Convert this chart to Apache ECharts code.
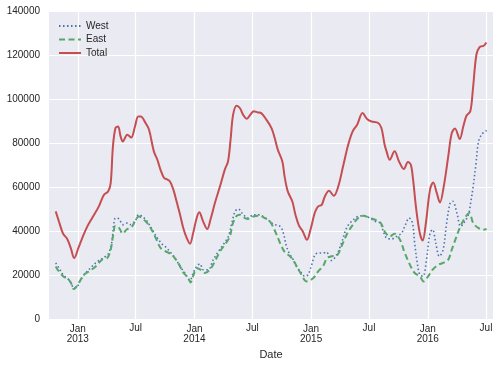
<!DOCTYPE html>
<html>
<head>
<meta charset="utf-8">
<script src="https://cdn.jsdelivr.net/npm/echarts@6/dist/echarts.min.js"></script>
<style>
html,body{margin:0;padding:0;background:#fff;}
#main{width:501px;height:367px;}
</style>
</head>
<body>
<div id="main"></div>
<script>
const seriesNames = ['West', 'East', 'Total'];
const yTicks = [0, 20000, 40000, 60000, 80000, 100000, 120000, 140000];
const xTickDates = ['2013-01-01','2013-07-01','2014-01-01','2014-07-01','2015-01-01','2015-07-01','2016-01-01','2016-07-01'];
const xRange = ['2012-10-03', '2016-07-23'];

const westData = [
['2012-10-24',25500],['2012-11-03',23200],['2012-11-16',20100],['2012-11-29',18600],['2012-12-10',16600],
['2012-12-20',14100],['2012-12-31',14800],['2013-01-10',17900],['2013-01-26',20900],['2013-02-10',23200],
['2013-02-26',25500],['2013-03-13',27000],['2013-03-29',28500],['2013-04-08',30000],['2013-04-17',34500],
['2013-04-24',43600],['2013-04-29',45900],['2013-05-10',45500],['2013-05-22',42900],['2013-06-05',43600],
['2013-06-15',42900],['2013-06-29',44400],['2013-07-11',47400],['2013-07-22',46600],['2013-08-06',44400],
['2013-08-22',40600],['2013-09-07',36800],['2013-09-22',34000],['2013-10-01',33000],['2013-10-16',30700],
['2013-11-01',27700],['2013-11-17',23900],['2013-12-02',20900],['2013-12-18',17600],['2013-12-28',20900],
['2014-01-08',23900],['2014-01-18',25100],['2014-01-29',22400],['2014-02-13',22400],['2014-03-01',27000],
['2014-03-17',30700],['2014-04-01',33800],['2014-04-17',37500],['2014-04-28',43600],['2014-05-08',48900],
['2014-05-18',50000],['2014-06-03',47400],['2014-06-18',45900],['2014-07-04',47400],['2014-07-20',47400],
['2014-08-04',46600],['2014-08-19',45100],['2014-09-04',43200],['2014-09-26',42100],['2014-10-06',39100],
['2014-10-16',33000],['2014-10-27',29200],['2014-11-06',27000],['2014-11-16',23900],['2014-12-02',20900],
['2014-12-12',19400],['2014-12-22',20100],['2015-01-03',24700],['2015-01-13',29200],['2015-01-23',30000],
['2015-02-08',30000],['2015-02-18',30400],['2015-03-06',26600],['2015-03-22',29200],['2015-04-06',34500],
['2015-04-22',41400],['2015-05-08',44400],['2015-05-28',46600],['2015-06-18',46900],['2015-07-04',45900],
['2015-07-20',44400],['2015-08-05',43600],['2015-08-15',39800],['2015-08-25',36800],['2015-09-10',36400],
['2015-09-25',37500],['2015-10-11',39100],['2015-10-21',42100],['2015-11-04',45900],['2015-11-14',43600],
['2015-11-21',34500],['2015-11-29',25500],['2015-12-07',20100],['2015-12-17',19400],['2015-12-28',27000],
['2016-01-08',39100],['2016-01-16',40600],['2016-01-26',34500],['2016-02-06',28500],['2016-02-18',31500],
['2016-02-29',43600],['2016-03-11',52700],['2016-03-19',53500],['2016-04-01',48200],['2016-04-13',42100],
['2016-04-26',44400],['2016-05-07',47400],['2016-05-14',52700],['2016-05-22',60300],['2016-05-31',70900],
['2016-06-07',80000],['2016-06-17',83800],['2016-07-03',85700]
];

const eastData = [
['2012-10-24',23900],['2012-11-03',21600],['2012-11-19',19100],['2012-11-29',18600],['2012-12-10',16600],
['2012-12-20',13600],['2013-01-05',16600],['2013-01-20',20100],['2013-02-05',21600],['2013-02-26',23900],
['2013-03-18',27000],['2013-04-03',27700],['2013-04-14',31500],['2013-04-21',37500],['2013-04-29',42400],
['2013-05-10',41400],['2013-05-22',38800],['2013-06-02',40600],['2013-06-20',42100],['2013-07-01',45100],
['2013-07-11',46600],['2013-08-01',44400],['2013-08-17',41400],['2013-09-02',36800],['2013-09-17',32300],
['2013-09-30',31000],['2013-10-22',29200],['2013-11-11',25500],['2013-11-27',21200],['2013-12-13',18600],
['2013-12-20',16600],['2013-12-28',19400],['2014-01-08',23200],['2014-01-20',22400],['2014-02-03',20900],
['2014-02-18',22400],['2014-03-06',26200],['2014-03-22',30700],['2014-04-06',33800],['2014-04-22',37500],
['2014-04-30',42900],['2014-05-13',46900],['2014-05-23',47400],['2014-06-08',45900],['2014-06-18',45500],
['2014-07-04',46600],['2014-07-24',46900],['2014-08-09',45900],['2014-08-25',44400],['2014-09-10',40000],
['2014-09-26',34500],['2014-10-11',30300],['2014-10-27',28500],['2014-11-11',25500],['2014-11-26',21600],
['2014-12-19',17100],['2015-01-08',18600],['2015-01-23',21600],['2015-02-08',24200],['2015-02-20',27700],
['2015-03-06',28500],['2015-03-22',28800],['2015-04-06',33000],['2015-04-22',38300],['2015-05-08',42100],
['2015-05-28',45900],['2015-06-13',46900],['2015-07-04',45900],['2015-07-20',45100],['2015-08-07',43600],
['2015-08-19',39800],['2015-09-04',37500],['2015-09-19',38800],['2015-10-06',36000],['2015-10-21',30000],
['2015-11-06',24700],['2015-11-21',20900],['2015-12-07',19400],['2015-12-19',17100],['2016-01-02',19400],
['2016-01-16',22400],['2016-02-03',24700],['2016-02-18',25500],['2016-03-05',27000],['2016-03-16',31500],
['2016-03-29',36800],['2016-04-10',41400],['2016-04-26',45900],['2016-05-10',48200],['2016-05-22',43600],
['2016-06-07',41400],['2016-06-22',40600],['2016-07-03',40900]
];

const totalData = [
['2012-10-24',48900],['2012-11-03',44400],['2012-11-16',38800],['2012-11-29',36400],['2012-12-10',32300],
['2012-12-21',27700],['2013-01-03',32300],['2013-01-15',36800],['2013-01-31',42100],['2013-02-15',45900],
['2013-03-08',51200],['2013-03-24',56500],['2013-04-06',58000],['2013-04-14',61800],['2013-04-21',78400],
['2013-04-29',86800],['2013-05-07',87500],['2013-05-15',83000],['2013-05-22',80700],['2013-06-05',83800],
['2013-06-17',82500],['2013-06-29',87500],['2013-07-09',92100],['2013-07-17',92100],['2013-08-01',89100],
['2013-08-12',86000],['2013-08-27',76200],['2013-09-07',72400],['2013-09-17',67800],['2013-09-28',64100],
['2013-10-06',63600],['2013-10-16',62600],['2013-10-27',58800],['2013-11-06',53500],['2013-11-17',47400],
['2013-11-27',41400],['2013-12-08',36800],['2013-12-18',34200],['2013-12-28',39100],['2014-01-08',45900],
['2014-01-16',48500],['2014-01-28',44400],['2014-02-10',40900],['2014-02-20',45100],['2014-03-06',52700],
['2014-03-22',60300],['2014-04-06',67900],['2014-04-16',71600],['2014-04-24',81500],['2014-05-02',92900],
['2014-05-13',96900],['2014-05-23',95900],['2014-06-02',92900],['2014-06-14',91000],['2014-06-25',92900],
['2014-07-06',94400],['2014-07-18',93900],['2014-07-29',93600],['2014-08-14',90600],['2014-08-30',86800],
['2014-09-09',82300],['2014-09-19',76900],['2014-10-03',71600],['2014-10-10',64800],['2014-10-20',58000],
['2014-11-03',53500],['2014-11-13',47400],['2014-11-24',42400],['2014-12-06',39800],['2014-12-19',36000],
['2014-12-30',40600],['2015-01-13',48500],['2015-01-23',51200],['2015-02-03',51900],['2015-02-13',55700],
['2015-02-26',58300],['2015-03-13',56000],['2015-03-27',60300],['2015-04-11',69400],['2015-04-27',79200],
['2015-05-11',85300],['2015-05-25',88300],['2015-06-11',93600],['2015-06-25',90900],['2015-07-09',89800],
['2015-07-30',89100],['2015-08-09',86800],['2015-08-19',79200],['2015-08-25',76200],['2015-09-04',72400],
['2015-09-19',76200],['2015-10-03',71600],['2015-10-18',68200],['2015-10-31',71400],['2015-11-09',70100],
['2015-11-16',63300],['2015-11-26',49700],['2015-12-07',39100],['2015-12-16',35700],['2015-12-26',43600],
['2016-01-08',58800],['2016-01-18',62100],['2016-01-29',57300],['2016-02-08',53000],['2016-02-20',60300],
['2016-03-05',73900],['2016-03-16',84500],['2016-03-26',86600],['2016-04-10',81800],['2016-04-21',87500],
['2016-05-01',92400],['2016-05-13',94400],['2016-05-21',104200],['2016-06-01',120100],['2016-06-11',123600],
['2016-06-24',124200],['2016-07-02',125700]
];

const FONT = '"Liberation Sans", Arial, sans-serif';
const TXT = '#262626';

function parseD(s){ const p = s.split('-').map(Number); return Date.UTC(p[0], p[1]-1, p[2]); }
const tickVals = xTickDates.map(parseD);
const toXY = arr => arr.map(d => [parseD(d[0]), d[1]]);

const chart = echarts.init(document.getElementById('main'), null, {renderer: 'canvas'});
chart.setOption({
  animation: false,
  backgroundColor: '#ffffff',
  grid: {left: 49, right: 8, top: 11, bottom: 48, show: true, backgroundColor: '#EAEAF2', borderWidth: 0},
  legend: {
    orient: 'vertical', left: 53, top: 16, itemWidth: 22, itemHeight: 8, itemGap: 3.5,
    itemStyle: {opacity: 0},
    textStyle: {fontSize: 10, color: TXT, fontFamily: FONT},
    data: seriesNames
  },
  xAxis: {
    type: 'value',
    min: parseD(xRange[0]), max: parseD(xRange[1]),
    name: 'Date', nameLocation: 'middle', nameGap: 30,
    nameTextStyle: {fontSize: 11, color: TXT, fontFamily: FONT},
    axisLine: {show: false},
    axisTick: {show: false, customValues: tickVals},
    axisLabel: {
      customValues: tickVals, margin: 4, color: TXT, fontSize: 10, fontFamily: FONT, lineHeight: 10,
      formatter: function (v) {
        const d = new Date(v);
        if (d.getUTCMonth() === 0) return '{j|Jan}\n{j|' + d.getUTCFullYear() + '}';
        return '{u|Jul}';
      },
      rich: {
        j: {fontSize: 10, color: TXT, fontFamily: FONT, lineHeight: 10, padding: [3,0,0,0]},
        u: {fontSize: 10, color: TXT, fontFamily: FONT, lineHeight: 10}
      }
    },
    splitLine: {show: true, lineStyle: {color: '#ffffff', width: 1.2}}
  },
  yAxis: {
    type: 'value', min: 0, max: 140000, interval: 20000,
    axisLine: {show: false}, axisTick: {show: false},
    axisLabel: {color: TXT, fontSize: 10, fontFamily: FONT, margin: 9, formatter: v => String(v)},
    splitLine: {show: true, lineStyle: {color: '#ffffff', width: 1.2}}
  },
  series: [
    {name: seriesNames[0], type: 'line', data: toXY(westData), smooth: 0.35, symbol: 'none', z: 2,
     lineStyle: {color: '#4C72B0', width: 1.6, type: [1.5, 2.5], cap: 'butt'}, itemStyle: {color: '#4C72B0'}},
    {name: seriesNames[1], type: 'line', data: toXY(eastData), smooth: 0.35, symbol: 'none', z: 3,
     lineStyle: {color: '#55A868', width: 2, type: [6, 3.5], cap: 'butt'}, itemStyle: {color: '#55A868'}},
    {name: seriesNames[2], type: 'line', data: toXY(totalData), smooth: 0.35, symbol: 'none', z: 4,
     lineStyle: {color: '#C44E52', width: 2}, itemStyle: {color: '#C44E52'}}
  ]
});
</script>
</body>
</html>
